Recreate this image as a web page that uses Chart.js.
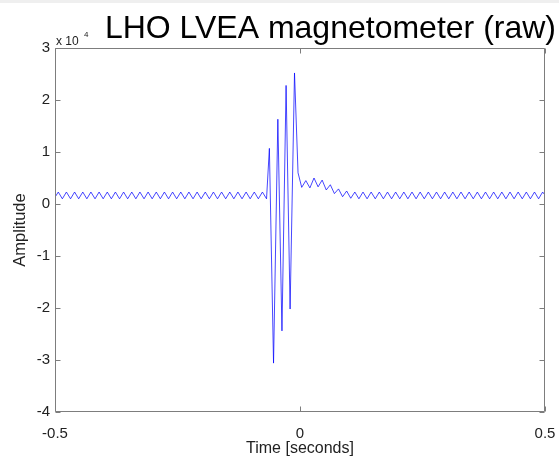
<!DOCTYPE html>
<html><head><meta charset="utf-8">
<script src="https://cdn.jsdelivr.net/npm/chart.js@4.4.1/dist/chart.umd.min.js"></script>
<style>html,body{margin:0;padding:0;background:#fff;} canvas{display:block;}</style>
</head><body>
<canvas id="c" width="559" height="460"></canvas>
<script>
// Time axis (seconds) of the read-off turning points
const times = [
 -0.5000,-0.4933,-0.4850,-0.4767,-0.4683,-0.4600,-0.4517,-0.4433,-0.4350,-0.4267,
 -0.4183,-0.4100,-0.4017,-0.3933,-0.3850,-0.3767,-0.3683,-0.3600,-0.3517,-0.3433,
 -0.3350,-0.3267,-0.3183,-0.3100,-0.3017,-0.2933,-0.2850,-0.2767,-0.2683,-0.2600,
 -0.2517,-0.2433,-0.2350,-0.2267,-0.2183,-0.2100,-0.2017,-0.1933,-0.1850,-0.1767,
 -0.1683,-0.1600,-0.1517,-0.1433,-0.1350,-0.1267,-0.1183,-0.1100,-0.1017,-0.0933,
 -0.0850,-0.0767,-0.0683,
 -0.0625,-0.0540,-0.0452,-0.0368,-0.0284,-0.0202,-0.0112,-0.0040,
 0.0035,0.0119,0.0202,0.0286,0.0369,0.0452,0.0536,0.0619,0.0702,0.0786,
 0.0869,0.0952,0.1036,0.1119,0.1202,0.1286,0.1369,0.1452,0.1536,0.1619,
 0.1702,0.1786,0.1869,0.1952,0.2036,0.2119,0.2202,0.2286,0.2369,0.2452,
 0.2536,0.2619,0.2702,0.2786,0.2869,0.2952,0.3036,0.3119,0.3202,0.3286,
 0.3369,0.3452,0.3536,0.3619,0.3702,0.3786,0.3869,0.3952,0.4036,0.4119,
 0.4202,0.4286,0.4369,0.4452,0.4536,0.4619,0.4702,0.4786,0.4869,0.4952,
 0.5000
];
// Magnetometer amplitude (raw counts)
const amplitude = [
 1300,2300,1000,2300,1000,2300,1000,2300,1000,2300,
 1000,2300,1000,2300,1000,2300,1000,2300,1000,2300,
 1000,2300,1000,2300,1000,2300,1000,2300,1000,2300,
 1000,2300,1000,2300,1000,2300,1000,2300,1000,2300,
 1000,2300,1000,2300,1000,2300,1000,2300,1000,2300,
 1000,2300,1000,
 10700,-30600,16300,-24400,22800,-20200,25200,6000,
 3200,4500,3100,5000,3300,4600,2700,3700,2000,2900,
 1400,2500,1100,2300,1000,2300,1000,2300,1000,2300,
 1000,2300,1000,2300,1000,2300,1000,2300,1000,2300,
 1000,2300,1000,2300,1000,2300,1000,2300,1000,2300,
 1000,2300,1000,2300,1000,2300,1000,2300,1000,2300,
 1000,2300,1000,2300,1000,2300,1000,2300,1000,2300,
 1700
];
const xTicks = [-0.5, 0, 0.5];
const yTicks = [-40000,-30000,-20000,-10000,0,10000,20000,30000];
const titleText = 'LHO LVEA magnetometer (raw)';
const xLabel = 'Time [seconds]';
const yLabel = 'Amplitude';
const yExponent = '4';

const FONT = '"Liberation Sans", Arial, Helvetica, sans-serif';
const points = times.map((t, i) => ({x: t, y: amplitude[i]}));

const framePlugin = {
  id: 'frame',
  beforeDraw(chart) {
    const ctx = chart.ctx;
    ctx.save();
    ctx.fillStyle = '#ffffff';
    ctx.fillRect(0, 0, chart.width, chart.height);
    ctx.fillStyle = '#efefef';
    ctx.fillRect(0, 0, chart.width, 3);
    ctx.restore();
  },
  afterDraw(chart) {
    const {ctx, chartArea: a, scales: {x, y}} = chart;
    ctx.save();
    ctx.strokeStyle = '#7d7d7d';
    ctx.lineWidth = 1;
    const L = Math.round(a.left) + 0.5, R = Math.round(a.right) - 0.5;
    const T = Math.round(a.top) + 0.5, B = Math.round(a.bottom) - 0.5;
    ctx.beginPath();
    ctx.rect(L, T, R - L, B - T);
    xTicks.forEach(v => {
      const px = Math.round(x.getPixelForValue(v)) + 0.5;
      ctx.moveTo(px, B); ctx.lineTo(px, B - 5);
      ctx.moveTo(px, T); ctx.lineTo(px, T + 5);
    });
    yTicks.forEach(v => {
      const py = Math.round(y.getPixelForValue(v)) + 0.5;
      ctx.moveTo(L, py); ctx.lineTo(L + 5, py);
      ctx.moveTo(R, py); ctx.lineTo(R - 5, py);
    });
    ctx.stroke();
    ctx.fillStyle = '#000';
    ctx.font = '32px ' + FONT;
    ctx.textAlign = 'right';
    ctx.textBaseline = 'alphabetic';
    ctx.fillText(titleText, 556, 38);
    ctx.fillStyle = '#222';
    ctx.textAlign = 'left';
    ctx.font = '12px ' + FONT;
    ctx.fillText('x 10', 56, 45);
    ctx.font = '8px ' + FONT;
    ctx.fillText(yExponent, 84, 37);
    ctx.restore();
  }
};

new Chart(document.getElementById('c'), {
  type: 'line',
  data: {datasets: [{data: points, borderColor: 'rgba(0,0,255,0.72)', borderWidth: 1,
    pointRadius: 0, tension: 0, fill: false}]},
  options: {
    responsive: false, animation: false, devicePixelRatio: 1,
    layout: {padding: {top: 48, right: 14, left: 0, bottom: 0}},
    plugins: {legend: {display: false}, tooltip: {enabled: false}, title: {display: false}},
    scales: {
      x: {
        type: 'linear', min: -0.5, max: 0.5,
        afterBuildTicks(s) { s.ticks = xTicks.map(v => ({value: v})); },
        ticks: {callback: v => String(v), font: {size: 15, family: FONT}, color: '#222',
          padding: 13, maxRotation: 0, autoSkip: false},
        grid: {display: false, drawTicks: false}, border: {display: false},
        title: {display: true, text: xLabel, font: {size: 16, family: FONT}, color: '#222',
          padding: {top: 0, bottom: 2}},
        afterFit(s) { s.height = 48; s.paddingLeft = 0; s.paddingRight = 0; }
      },
      y: {
        type: 'linear', min: -40000, max: 30000,
        afterBuildTicks(s) { s.ticks = yTicks.map(v => ({value: v})); },
        ticks: {callback: v => String(v / 10000), font: {size: 15, family: FONT}, color: '#222',
          padding: 5, autoSkip: false},
        grid: {display: false, drawTicks: false}, border: {display: false},
        title: {display: true, text: yLabel, font: {size: 16.5, family: FONT}, color: '#222',
          padding: {top: 11, bottom: 0}},
        afterFit(s) { s.width = 55; s.paddingTop = 0; s.paddingBottom = 0; }
      }
    }
  },
  plugins: [framePlugin]
});
</script>
</body></html>
